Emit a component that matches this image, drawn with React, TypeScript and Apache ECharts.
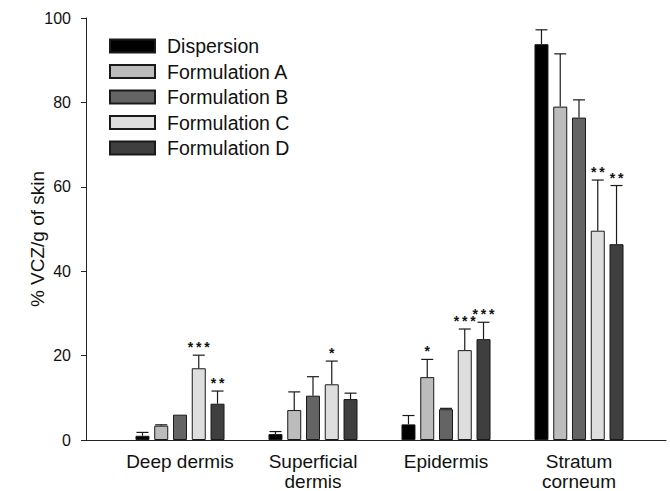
import React, { useEffect, useRef } from "react";
import * as echarts from "echarts";

const categories = ["Deep dermis", "Superficial\ndermis", "Epidermis", "Stratum\ncorneum"];
const seriesNames = ["Dispersion", "Formulation A", "Formulation B", "Formulation C", "Formulation D"];
const dispersion = [1.0, 1.4, 3.7, 93.8];
const formulationA = [3.4, 7.1, 14.9, 79.0];
const formulationB = [6.0, 10.5, 7.3, 76.4];
const formulationC = [17.0, 13.2, 21.3, 49.6];
const formulationD = [8.6, 9.7, 23.9, 46.4];
const errDispersion = [0.8, 0.6, 2.1, 3.4];
const errA = [0.2, 4.3, 4.2, 12.5];
const errB = [0.0, 4.5, 0.2, 4.2];
const errC = [3.1, 5.5, 5.0, 12.0];
const errD = [3.0, 1.4, 4.0, 13.9];
const starsDispersion = ["", "", "", ""];
const starsA = ["", "", "*", ""];
const starsB = ["", "", "", ""];
const starsC = ["***", "*", "***", "**"];
const starsD = ["**", "", "***", "**"];
const yTicks = [0, 20, 40, 60, 80, 100];
const yTitle = "% VCZ/g of skin";

const colors = ["#000000", "#bcbcbc", "#646464", "#dedede", "#3f3f3f"];
const FONT = "Liberation Sans, Arial, sans-serif";
const BAR_W = 14;
const BAR_GAP = 0.34;

export default function App() {
  const ref = useRef<HTMLDivElement>(null);
  useEffect(() => {
    if (!ref.current) return;
    const chart = echarts.init(ref.current, undefined, { renderer: "svg" });
    const values = [dispersion, formulationA, formulationB, formulationC, formulationD];
    const errs = [errDispersion, errA, errB, errC, errD];
    const stars = [starsDispersion, starsA, starsB, starsC, starsD];

    const barSeries = seriesNames.map((name, i) => ({
      name,
      type: "bar",
      xAxisIndex: 0,
      yAxisIndex: 0,
      barWidth: BAR_W,
      barGap: BAR_GAP * 100 + "%",
      data: values[i],
      itemStyle: { color: colors[i], borderColor: "#1a1a1a", borderWidth: 1 },
    }));

    const errSeries = seriesNames.map((name, i) => ({
      name: "err-" + name,
      type: "custom",
      xAxisIndex: 0,
      yAxisIndex: 0,
      z: 5,
      data: values[i].map((v, k) => [k, v, errs[i][k]]),
      renderItem: (params: any, api: any) => {
        const k = api.value(0);
        const v = api.value(1);
        const e = api.value(2);
        const s = stars[i][params.dataIndex] || "";
        const base = api.coord([k, v]);
        const top = api.coord([k, v + e]);
        const off = (i - 2) * BAR_W * (1 + BAR_GAP);
        const x = base[0] + off;
        const children: any[] = [];
        if (e > 0) {
          children.push({
            type: "line",
            shape: { x1: x, y1: base[1], x2: x, y2: top[1] },
            style: { stroke: "#1a1a1a", lineWidth: 1.2 },
          });
          children.push({
            type: "line",
            shape: { x1: x - 6, y1: top[1], x2: x + 6, y2: top[1] },
            style: { stroke: "#1a1a1a", lineWidth: 1.2 },
          });
        }
        const n = s.length;
        for (let j = 0; j < n; j++) {
          children.push({
            type: "text",
            style: {
              x: x + (j - (n - 1) / 2) * 8.2,
              y: top[1] - 8,
              text: "*",
              fontSize: 14,
              fontWeight: "bold",
              fontFamily: FONT,
              fill: "#111",
              align: "center",
              verticalAlign: "middle",
            },
          });
        }
        return { type: "group", children };
      },
    }));

    chart.setOption({
      animation: false,
      backgroundColor: "#ffffff",
      textStyle: { fontFamily: FONT },
      legend: {
        data: seriesNames,
        orient: "vertical",
        left: 109,
        top: 36,
        padding: 0,
        itemWidth: 45,
        itemHeight: 13,
        itemGap: 5.5,
        icon: "rect",
        textStyle: { fontSize: 19.5, color: "#111", fontFamily: FONT, padding: [0, 0, 0, 7] },
      },
      graphic: [
        {
          type: "text",
          x: 37,
          y: 239,
          rotation: Math.PI / 2,
          style: {
            text: yTitle,
            fontSize: 19,
            fontFamily: FONT,
            fill: "#111",
            align: "center",
            verticalAlign: "middle",
          },
        },
      ],
      grid: [
        { left: 113.5, right: 24.5, top: 18, bottom: 51, outerBoundsMode: "none", containLabel: false },
        { left: 86, right: 4, top: 18, bottom: 51, outerBoundsMode: "none", containLabel: false },
      ],
      xAxis: [
        {
          type: "category",
          gridIndex: 0,
          data: categories,
          axisLine: { show: false },
          axisTick: { show: false },
          axisLabel: {
            interval: 0,
            fontSize: 19,
            color: "#111",
            margin: 11,
            lineHeight: 20,
            fontFamily: FONT,
          },
        },
        {
          type: "value",
          gridIndex: 1,
          min: 0,
          max: 1,
          axisLine: { show: true, lineStyle: { color: "#222", width: 1 } },
          axisTick: { show: false },
          axisLabel: { show: false },
          splitLine: { show: false },
        },
      ],
      yAxis: [
        {
          type: "value",
          gridIndex: 0,
          min: 0,
          max: 100,
          interval: 20,
          show: false,
          splitLine: { show: false },
        },
        {
          type: "value",
          gridIndex: 1,
          min: yTicks[0],
          max: yTicks[yTicks.length - 1],
          interval: 20,
          axisLine: { show: true, lineStyle: { color: "#222", width: 1 } },
          axisTick: { show: true, length: 5, inside: false, lineStyle: { color: "#222" } },
          axisLabel: { fontSize: 16, color: "#111", margin: 15, fontFamily: FONT },
          splitLine: { show: false },
        },
      ],
      series: [...barSeries, ...errSeries],
    });
    return () => chart.dispose();
  }, []);
  return (
    <div
      ref={ref}
      style={{ position: "absolute", left: 0, top: 0, width: 670, height: 491 }}
    />
  );
}
